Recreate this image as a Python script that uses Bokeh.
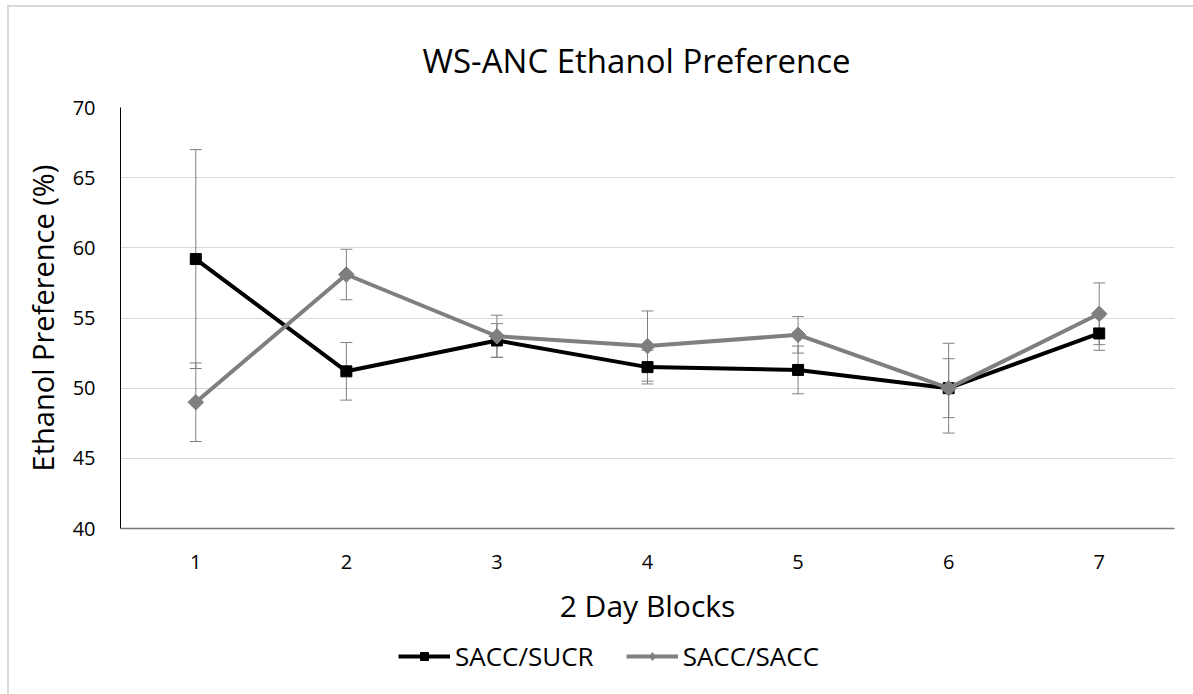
from bokeh.plotting import figure
from bokeh.layouts import column
from bokeh.models import (ColumnDataSource, Whisker, TeeHead, Legend, LegendItem,
                          FixedTicker, Range1d)
from bokeh.embed import file_html
from bokeh.resources import INLINE
import math

# ---- data ----
blocks = [1, 2, 3, 4, 5, 6, 7]
sucr = [59.2, 51.2, 53.4, 51.5, 51.3, 50.0, 53.9]
sucr_err = [7.8, 2.05, 1.2, 1.2, 1.7, 2.1, 1.2]
sacc = [49.0, 58.1, 53.7, 53.0, 53.8, 50.0, 55.3]
sacc_err = [2.8, 1.8, 1.5, 2.5, 1.3, 3.2, 2.2]
y_ticks = [40, 45, 50, 55, 60, 65, 70]
series_names = ["SACC/SUCR", "SACC/SACC"]

FONT = "Open Sans"
BLACK = "#000000"
GREY = "#7f7f7f"

src_sucr = ColumnDataSource(dict(x=blocks, y=sucr,
                                 lo=[v - e for v, e in zip(sucr, sucr_err)],
                                 hi=[v + e for v, e in zip(sucr, sucr_err)]))
src_sacc = ColumnDataSource(dict(x=blocks, y=sacc,
                                 lo=[v - e for v, e in zip(sacc, sacc_err)],
                                 hi=[v + e for v, e in zip(sacc, sacc_err)]))

p = figure(frame_width=1054, frame_height=421, output_backend="svg",
           toolbar_location=None,
           x_range=Range1d(0.5, 7.5), y_range=Range1d(40, 70),
           min_border_left=111, min_border_right=19, min_border_top=100,
           min_border_bottom=105)
p.outline_line_color = None

p.title.text = "WS-ANC Ethanol Preference"
p.title.align = "left"
p.title.offset = 302
p.title.text_font = FONT
p.title.text_font_style = "normal"
p.title.text_font_size = "33px"
p.title.text_color = BLACK
p.title.standoff = 50

# axes
p.xaxis.ticker = FixedTicker(ticks=blocks)
p.yaxis.ticker = FixedTicker(ticks=y_ticks)
for ax in (p.xaxis[0], p.yaxis[0]):
    ax.major_tick_line_color = None
    ax.minor_tick_line_color = None
    ax.major_label_text_font = FONT
    ax.major_label_text_font_size = "20px"
    ax.major_label_text_color = BLACK
    ax.axis_label_text_font = FONT
    ax.axis_label_text_font_style = "normal"
    ax.axis_label_text_color = BLACK
p.xaxis.axis_line_color = "#767676"
p.xaxis.axis_line_width = 1.5
p.yaxis.axis_line_color = BLACK
p.xaxis.major_label_standoff = 20
p.yaxis.major_label_standoff = 19
p.xaxis.axis_label = "2 Day Blocks"
p.yaxis.axis_label = "Ethanol Preference (%)"
p.xaxis.axis_label_text_font_size = "30px"
p.yaxis.axis_label_text_font_size = "29px"
p.xaxis.axis_label_standoff = 13
p.yaxis.axis_label_standoff = 8

p.xgrid.grid_line_color = None
p.ygrid.grid_line_color = "#d9d9d9"
p.ygrid.grid_line_width = 1

# error bars
for src in (src_sucr, src_sacc):
    w = Whisker(source=src, base="x", lower="lo", upper="hi",
                line_color="#808080", line_width=1,
                upper_head=TeeHead(size=12, line_color="#808080", line_width=1),
                lower_head=TeeHead(size=12, line_color="#808080", line_width=1))
    p.add_layout(w)

# series
p.line("x", "y", source=src_sucr, line_color=BLACK, line_width=4)
p.scatter("x", "y", source=src_sucr, marker="square", size=11,
          fill_color=BLACK, line_color=BLACK)
p.line("x", "y", source=src_sacc, line_color=GREY, line_width=4)
p.scatter("x", "y", source=src_sacc, marker="square", angle=math.pi / 4,
          size=11, fill_color=GREY, line_color=GREY)

# ---- legend strip below the chart (its frame is aligned with the chart's) ----
p2 = figure(width=1184, height=61, output_backend="svg", toolbar_location=None,
            x_range=Range1d(0, 1), y_range=Range1d(0, 1),
            x_axis_location=None, y_axis_location=None,
            min_border_left=0, min_border_right=0, min_border_top=0,
            min_border_bottom=0)
p2.outline_line_color = None
p2.grid.visible = False
# legend-key renderers: one point placed outside the visible range
key_src = ColumnDataSource(dict(x=[-5, -4], y=[-5, -4]))
ll1 = p2.line("x", "y", source=key_src, line_color=BLACK, line_width=4)
kk1 = p2.scatter("x", "y", source=key_src, marker="square", size=9,
                 fill_color=BLACK, line_color=BLACK)
ll2 = p2.line("x", "y", source=key_src, line_color=GREY, line_width=4)
kk2 = p2.scatter("x", "y", source=key_src, marker="diamond", size=15,
                 fill_color=GREY, line_color=GREY)
legend = Legend(items=[LegendItem(label=series_names[0], renderers=[ll1, kk1]),
                       LegendItem(label=series_names[1], renderers=[ll2, kk2])],
                orientation="horizontal", location=(278, 20),
                glyph_width=52, glyph_height=20, label_standoff=5, spacing=32,
                padding=0, margin=0, border_line_color=None,
                background_fill_alpha=0, label_text_font=FONT,
                label_text_font_size="26px", label_text_color=BLACK)
p2.add_layout(legend, "center")

layout = column(p, p2, spacing=0)
layout.styles = {"border-top": "2px solid #d9d9d9", "border-left": "2px solid #d9d9d9",
                 "margin-left": "7px", "margin-top": "5px"}

open("out.html", "w").write(file_html(layout, INLINE))
